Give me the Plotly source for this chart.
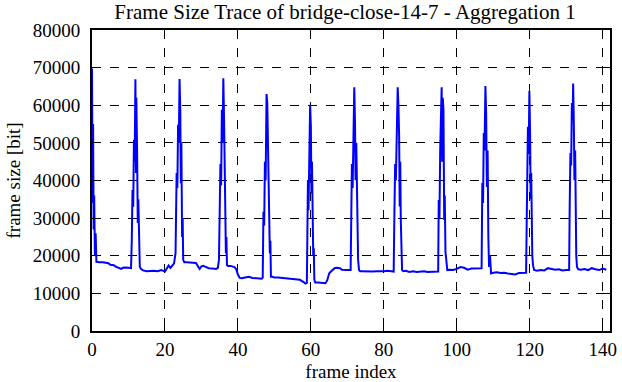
import plotly.graph_objects as go

# ---- data (frame index, frame size in bit) ----
frame_index = [
    0, 0.15, 0.3, 0.45, 0.6, 0.8, 1.0, 1.2,
    1.5, 2, 3, 4, 4.5, 5, 6, 6.5, 7, 7.5, 8, 8.5, 9, 10, 10.7,
    10.9, 11.1, 11.3, 11.5, 11.7, 11.9, 12.05, 12.15, 12.35, 12.55, 12.7, 12.9, 13.1, 13.4,
    14, 15, 16, 17, 18, 19, 20, 20.5, 21, 21.5, 22, 22.5,
    22.9, 23.05, 23.2, 23.4, 23.6, 23.8, 24.0, 24.2, 24.35, 24.5, 24.7, 24.85, 25.0, 25.3,
    26, 27, 28, 28.5, 29, 29.5, 30, 30.5, 31, 32, 33, 34, 34.5,
    34.8, 35.0, 35.2, 35.4, 35.6, 35.8, 36.0, 36.2, 36.35, 36.5, 36.7, 36.85, 37.0, 37.3,
    38, 39, 39.5, 40, 40.5, 41, 42, 43, 44, 45, 46, 46.5,
    46.8, 47.0, 47.2, 47.4, 47.6, 47.85, 48.05, 48.25, 48.4, 48.6, 48.75, 48.9, 49.05,
    49.5, 50, 51, 52, 53, 54, 55, 56, 57, 58, 58.5,
    58.9, 59.0, 59.2, 59.35, 59.55, 59.8, 60.0, 60.15, 60.3, 60.5, 60.65, 60.8, 60.95, 61.2,
    62, 63, 64, 64.5, 65, 65.5, 66, 66.5, 67, 68, 68.5, 69, 70,
    70.9, 71.0, 71.25, 71.45, 71.7, 71.9, 72.1, 72.25, 72.45, 72.65, 72.8, 72.95, 73.2, 73.5,
    74, 75, 76, 77, 78, 79, 80, 81, 82,
    82.7, 82.9, 83.1, 83.3, 83.55, 83.8, 84.0, 84.2, 84.35, 84.5, 84.65, 84.8, 85.0, 85.3,
    86, 87, 88, 89, 90, 91, 92, 93, 94,
    94.9, 95.05, 95.25, 95.45, 95.65, 95.85, 96.0, 96.15, 96.35, 96.55, 96.7, 96.9, 97.1, 97.4,
    98, 99, 100, 101, 102, 103, 104, 105, 106,
    106.8, 107.0, 107.2, 107.4, 107.6, 107.85, 108.05, 108.25, 108.45, 108.65, 108.85, 109.1, 109.4,
    110, 111, 112, 113, 114, 115, 116, 117, 118,
    119.0, 119.15, 119.35, 119.5, 119.7, 119.9, 120.1, 120.25, 120.4, 120.55, 120.7, 120.9, 121.2,
    122, 123, 124, 125, 126, 127, 128, 129, 130,
    130.8, 130.95, 131.15, 131.35, 131.55, 131.75, 131.9, 132.1, 132.25, 132.45, 132.6, 132.75, 132.95, 133.3,
    134, 135, 136, 137, 138, 139, 140, 141,
]

frame_size_bit = [
    69800, 34000, 55000, 27000, 36000, 20000, 26000, 18400,
    18300, 18300, 18300, 18100, 18000, 17600, 17500, 17100, 16900, 16500, 16500, 16800, 16900, 16800, 16700,
    23700, 37500, 33000, 50800, 45000, 66900, 42000, 62000, 49000, 28700, 35000, 22400, 17100, 16500,
    16100, 15900, 16000, 16000, 15900, 16200, 15800, 16800, 17400, 16800, 17500, 18000,
    20700, 28700, 42000, 38000, 54800, 50000, 67000, 58800, 39300, 50000, 25000, 30000, 18900, 18300,
    18300, 18200, 18000, 18100, 17300, 16500, 17200, 17300, 17100, 16700, 16600, 16500, 16800,
    18900, 31300, 44400, 38700, 58800, 50000, 67200, 56600, 48000, 42000, 20700, 25000, 17500, 17300,
    17300, 17000, 16500, 15000, 14100, 14000, 14200, 14400, 14100, 14000, 13900, 13900,
    14200, 31700, 28000, 45000, 40000, 63000, 60600, 47300, 34000, 27700, 20700, 24000, 14400,
    14400, 14200, 14200, 14100, 14000, 14000, 13900, 13800, 13600, 13000, 12600,
    12800, 20700, 40100, 32100, 52000, 60100, 54300, 36600, 45000, 29500, 20000, 22000, 13600, 12900,
    12900, 12800, 12700, 13500, 15300, 15800, 16300, 16700, 16800, 16700, 16300, 16200, 16200,
    16200, 27000, 44400, 38000, 58000, 64800, 55300, 40100, 50000, 36600, 22000, 18900, 16200, 15900,
    15900, 15800, 15700, 15800, 15900, 15800, 15900, 16000, 15900,
    15800, 31300, 44400, 40000, 56000, 64800, 60000, 51600, 33100, 45000, 29500, 21000, 16200, 15900,
    16000, 15700, 15900, 15700, 15800, 15900, 15700, 15800, 15800,
    15800, 34800, 30000, 48100, 56000, 64800, 45000, 62000, 58700, 29500, 36000, 21000, 18000, 16200,
    16300, 16200, 16500, 17000, 16800, 16300, 16600, 16700, 16600,
    16700, 39300, 34000, 52600, 48000, 65100, 57800, 38300, 48000, 25000, 17000, 20000, 15300,
    15500, 15600, 15400, 15500, 15300, 15200, 15000, 15400, 15500,
    15500, 27700, 41000, 54300, 47000, 63800, 52000, 35000, 42000, 25000, 20000, 17500, 16200,
    16000, 16200, 16100, 16700, 16500, 16300, 16400, 16100, 16200,
    16200, 33000, 47300, 44000, 60600, 56000, 65800, 54300, 40100, 48000, 28000, 20000, 17000, 16400,
    16300, 16500, 16200, 16700, 16400, 16200, 16600, 16300,
]

x_ticks = [0, 20, 40, 60, 80, 100, 120, 140]
y_ticks = [0, 10000, 20000, 30000, 40000, 50000, 60000, 70000, 80000]

title_text = "Frame Size Trace of bridge-close-14-7 - Aggregation 1"
x_title = "frame index"
y_title = "frame size [bit]"

FONT = "Liberation Serif"
FS = 19

fig = go.Figure()
fig.add_trace(go.Scatter(
    x=frame_index, y=frame_size_bit, mode="lines",
    line=dict(color="#0000ff", width=2), showlegend=False,
))

axis_common = dict(
    showgrid=True, gridcolor="black", gridwidth=1, griddash="dash",
    showline=True, linecolor="black", linewidth=2, mirror="ticks",
    ticks="inside", ticklen=7, tickwidth=1, tickcolor="black",
    zeroline=False, automargin=False,
)

fig.update_layout(
    width=622, height=382,
    margin=dict(l=92, r=12, t=30, b=51),
    paper_bgcolor="white", plot_bgcolor="white",
    font=dict(family=FONT, size=FS, color="black"),
    title=dict(text=title_text, x=345 / 622, xanchor="center",
               y=1 - 12 / 382, yanchor="middle", yref="container",
               font=dict(family=FONT, size=21, color="black")),
    xaxis=dict(range=[0, 142], tickvals=x_ticks,
               ticktext=[str(v) for v in x_ticks],
               tickfont=dict(family=FONT, size=FS, color="black"),
               title=dict(text=x_title, standoff=6,
                          font=dict(family=FONT, size=FS, color="black")),
               **axis_common),
    yaxis=dict(range=[0, 80000], tickvals=y_ticks,
               ticktext=[str(v) for v in y_ticks],
               tickfont=dict(family=FONT, size=FS, color="black"),
               ticklabelstandoff=6,
               title=dict(text=y_title, standoff=7,
                          font=dict(family=FONT, size=FS, color="black")),
               **axis_common),
)

fig.write_html(
    "out.html",
    config={"displayModeBar": False, "staticPlot": True},
    post_script="document.body.style.margin='0';document.body.style.overflow='hidden';",
)
